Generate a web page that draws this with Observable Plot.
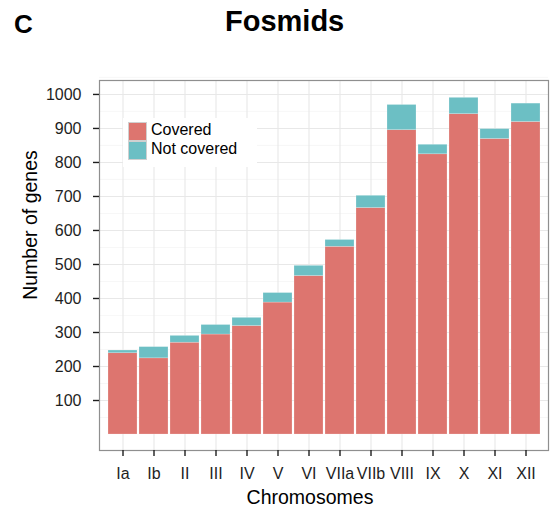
<!DOCTYPE html>
<html>
<head>
<meta charset="utf-8">
<script src="https://cdn.jsdelivr.net/npm/d3@7"></script>
<script src="https://cdn.jsdelivr.net/npm/@observablehq/plot@0.6"></script>
<style>
  body { margin: 0; background: #fff; font-family: "Liberation Sans", Arial, Helvetica, sans-serif; }
  #wrap { position: relative; width: 551px; height: 508px; overflow: hidden; }
  #chart { position: absolute; left: 0; top: 0; }
  .abs { position: absolute; white-space: nowrap; color: #000; }
</style>
</head>
<body>
<div id="wrap">
  <div id="chart"></div>
  <div class="abs" style="left:14px;top:11px;font-size:26px;line-height:26px;font-weight:bold;">C</div>
  <div class="abs" style="left:225px;top:6.5px;font-size:29px;line-height:29px;font-weight:bold;">Fosmids</div>
  <div class="abs" style="left:310px;top:487.5px;font-size:19.5px;line-height:19.5px;transform:translateX(-50%);">Chromosomes</div>
  <div class="abs" style="left:31.2px;top:225px;font-size:19.5px;line-height:19.5px;transform:translate(-50%,-50%) rotate(-90deg);">Number of genes</div>
  <div id="legend" class="abs" style="left:123px;top:118px;width:134px;height:49px;background:#fff;"></div>
</div>
<script>
// ---- data ----
const chromosomes = ["Ia","Ib","II","III","IV","V","VI","VIIa","VIIb","VIII","IX","X","XI","XII"];
const covered     = [239, 224, 270, 294, 319, 388, 466, 552, 666, 895, 824, 942, 869, 919];
const notCovered  = [  8,  33,  20,  28,  24,  28,  30,  20,  36,  74,  28,  48,  29,  54];
const seriesNames = ["Covered", "Not covered"];
const seriesColors = ["#dd756f", "#6cbfc4"];
const yTicks = [100, 200, 300, 400, 500, 600, 700, 800, 900, 1000];

const table = [];
chromosomes.forEach((c, i) => {
  table.push({chrom: c, series: seriesNames[0], value: covered[i]});
  table.push({chrom: c, series: seriesNames[1], value: notCovered[i]});
});
const minorTicks = [50, ...yTicks.map(v => v + 50)];

const chart = Plot.plot({
  width: 551,
  height: 508,
  marginLeft: 99,
  marginRight: 3,
  marginTop: 80,
  marginBottom: 58,
  style: {fontFamily: '"Liberation Sans", Arial, sans-serif', fontSize: "16px", background: "#fff"},
  x: {type: "band", domain: chromosomes, paddingInner: 0.08, paddingOuter: 0.14, label: null},
  y: {domain: [-47, 1041], label: null},
  color: {domain: seriesNames, range: seriesColors},
  marks: [
    Plot.ruleY(minorTicks, {y: d => d, stroke: "#f3f3f3", strokeWidth: 0.7}),
    Plot.ruleY(yTicks, {y: d => d, stroke: "#e8e8e8", strokeWidth: 1.1}),
    Plot.ruleX(chromosomes, {x: d => d, stroke: "#e8e8e8", strokeWidth: 1.1}),
    Plot.barY(table, {x: "chrom", y: "value", fill: "series", order: seriesNames, stroke: "#ffffff", strokeOpacity: 0.35, strokeWidth: 0.6}),
    Plot.frame({stroke: "#8f8f8f", strokeWidth: 1.2}),
    Plot.axisY(yTicks, {tickSize: 6, tickPadding: 12, fontSize: 16, color: "#1e1e1e", strokeWidth: 1.4, tickFormat: d => String(d), label: null}),
    Plot.axisX({tickSize: 6, tickPadding: 11, fontSize: 16, color: "#1e1e1e", strokeWidth: 1.4, label: null})
  ]
});
document.getElementById("chart").appendChild(chart);

// legend (HTML, built from the series arrays)
const legend = document.getElementById("legend");
seriesNames.forEach((name, i) => {
  const key = document.createElement("div");
  key.style.cssText = `position:absolute;left:5px;top:${4 + i * 18.5}px;width:17px;height:17px;background:${seriesColors[i]};border:0.8px solid #d0d0d0;`;
  legend.appendChild(key);
  const lab = document.createElement("div");
  lab.textContent = name;
  lab.style.cssText = `position:absolute;left:28px;top:${3.5 + i * 19.5}px;font-size:16px;line-height:16px;color:#000;white-space:nowrap;`;
  legend.appendChild(lab);
});
</script>
</body>
</html>
